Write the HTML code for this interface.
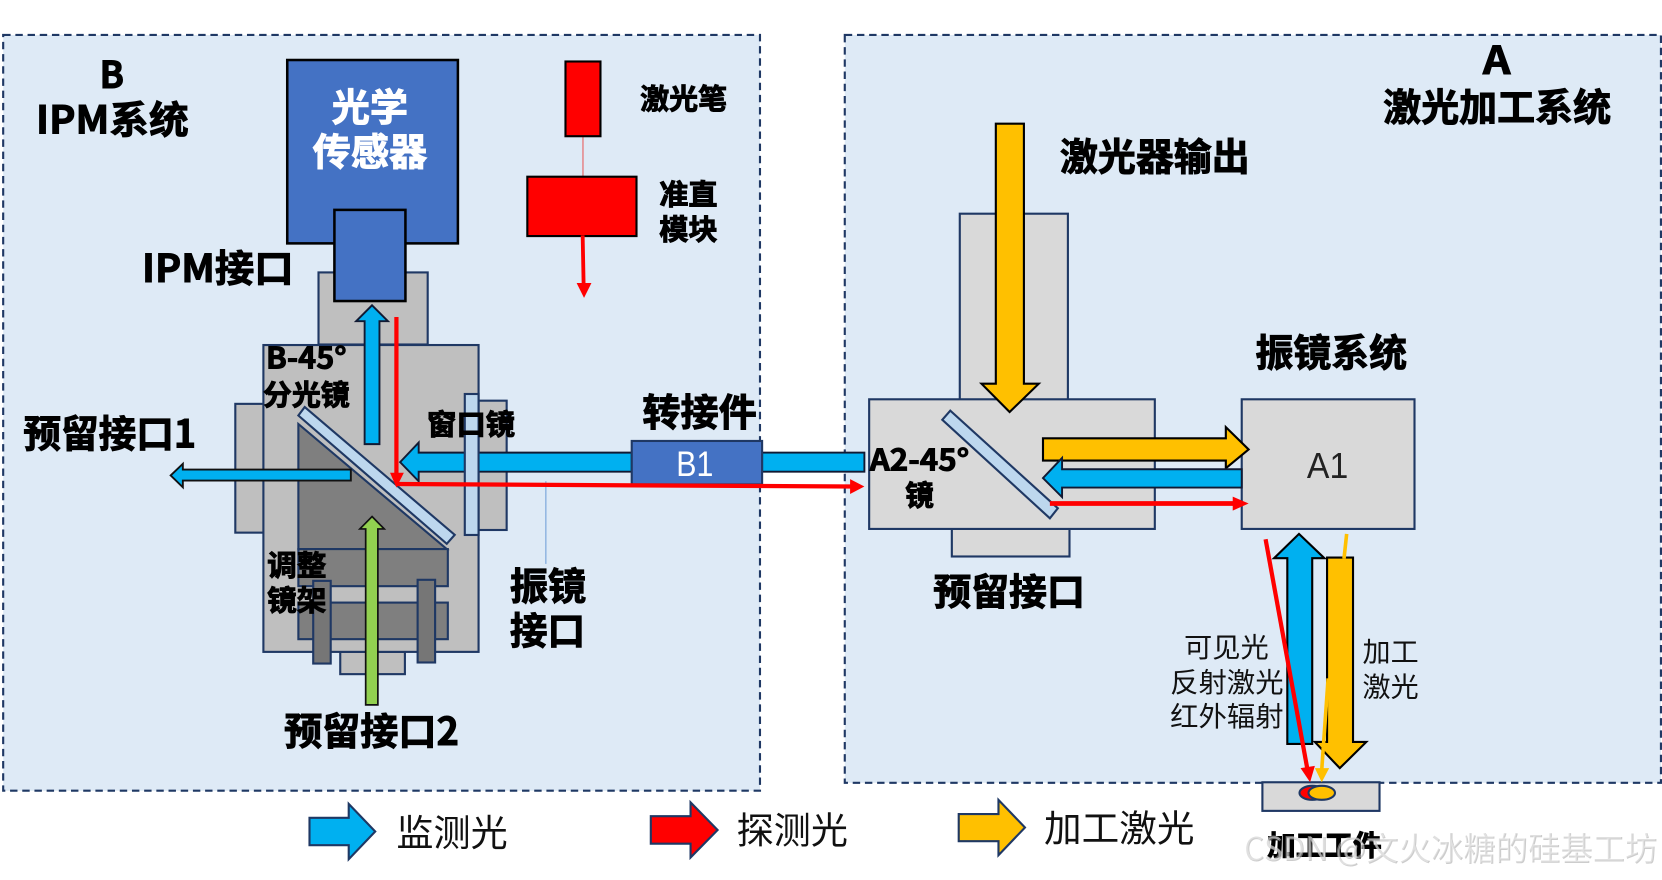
<!DOCTYPE html>
<html lang="zh">
<head>
<meta charset="utf-8">
<title>IPM diagram</title>
<style>
html,body{margin:0;padding:0;background:#fff;width:1662px;height:880px;overflow:hidden}
svg{display:block}
text{font-family:"Liberation Sans","Noto Sans CJK SC",sans-serif;fill:#000}
.b{font-family:"Noto Sans CJK SC","Liberation Sans",sans-serif;font-weight:700;stroke:#000;stroke-width:.9}
.n{font-family:"Noto Sans CJK SC","Liberation Sans",sans-serif;font-weight:400;fill:#111}
.w{font-family:"Noto Sans CJK SC","Liberation Sans",sans-serif;font-weight:400}
</style>
</head>
<body>
<svg width="1662" height="880" viewBox="0 0 1568 830.2" xmlns="http://www.w3.org/2000/svg">
<rect width="1568" height="831" fill="#fff"/>
<g stroke="#1f3864" stroke-width="2">
<!-- panels -->
<rect x="3" y="33" width="714" height="713" fill="#deeaf6" stroke-dasharray="7 4.5"/>
<rect x="797" y="33" width="770" height="705.5" fill="#deeaf6" stroke-dasharray="7 4.5"/>

<!-- B housing -->
<rect x="222" y="381" width="27" height="121.5" fill="#bfbfbf"/>
<rect x="451" y="378" width="27" height="122" fill="#bfbfbf"/>
<rect x="300.5" y="257" width="103" height="68" fill="#bfbfbf"/>
<rect x="321" y="615" width="61" height="21" fill="#bfbfbf"/>
<rect x="248.5" y="325.5" width="203" height="289.5" fill="#bfbfbf"/>
<polygon points="281.5,400 281.5,518 421.5,518" fill="#7f7f7f"/>
<rect x="281.5" y="518" width="141" height="35" fill="#7f7f7f"/>
<rect x="281.5" y="568.5" width="141" height="34.5" fill="#7f7f7f"/>
<rect x="295.5" y="548" width="16.5" height="78" fill="#767676"/>
<rect x="394" y="547" width="16.5" height="78" fill="#767676"/>
<polygon points="287.5,384 281.5,392 421.5,513 429,504.6" fill="#bdd7ee"/>
</g>

<!-- sensor -->
<rect x="271" y="56.6" width="161" height="173" fill="#4472c4" stroke="#000" stroke-width="2.4"/>
<rect x="315.5" y="198" width="67" height="86" fill="#4472c4" stroke="#000" stroke-width="2.4"/>

<!-- laser pen -->
<line x1="550" y1="128" x2="550" y2="167" stroke="#e85a5a" stroke-width="1"/>
<rect x="533.5" y="58" width="33" height="70.5" fill="#f00" stroke="#000" stroke-width="2"/>
<rect x="497.5" y="166.7" width="103" height="56" fill="#f00" stroke="#000" stroke-width="2"/>
<line x1="549.7" y1="222" x2="550.6" y2="268" stroke="#f00" stroke-width="3.6"/>
<polygon points="544,267 558,267 551,281" fill="#f00"/>

<!-- green arrow -->
<polygon points="351,487.3 362.5,499 356.5,499 356.5,665 345,665 345,499 339.5,499" fill="#92d050" stroke="#111" stroke-width="1.6"/>

<!-- blue up arrow in B -->
<polygon points="351,288 366,303 358,303 358,419 344,419 344,303 336,303" fill="#00b0f0" stroke="#111a33" stroke-width="1.8"/>
<!-- small blue left arrow -->
<polygon points="161,448.5 172.5,437.6 172.5,443 331,443 331,453.4 172.5,453.4 172.5,459.7" fill="#00b0f0" stroke="#111" stroke-width="1.8"/>
<!-- blue main left arrow -->
<polygon points="377.5,436 395,417.5 395,427 596,427 596,445 395,445 395,454" fill="#00b0f0" stroke="#111a33" stroke-width="1.8"/>
<rect x="719" y="427" width="96.5" height="18" fill="#00b0f0" stroke="#111a33" stroke-width="1.8"/>
<!-- B1 -->
<rect x="596" y="416" width="123" height="41" fill="#4472c4" stroke="#1f3864" stroke-width="2"/>

<!-- window mirror above blue -->
<rect x="438.5" y="371.7" width="13" height="133" fill="#bdd7ee" stroke="#1f3864" stroke-width="2"/>

<!-- thin blue -->
<line x1="515" y1="454" x2="515" y2="532" stroke="#6f9fd8" stroke-width="1"/>

<!-- A housing -->
<g stroke="#1f3864" stroke-width="2" fill="#d9d9d9">
<rect x="905.5" y="201.6" width="102" height="175.4"/>
<rect x="898" y="499" width="111" height="26"/>
<rect x="820" y="376.7" width="269.5" height="122.3"/>
<rect x="1171.5" y="376.7" width="163" height="122.3"/>
<polygon points="896.5,387.4 889,396 990.5,489 998,479.5" fill="#bdd7ee"/>
<rect x="1191" y="738" width="110.5" height="27"/>
<ellipse cx="1238" cy="748" rx="12" ry="6.6" fill="#f00"/>
<ellipse cx="1247" cy="748" rx="12.5" ry="6.6" fill="#ffc000"/>
</g>

<!-- A arrows -->
<polygon points="939.5,116.7 966,116.7 966,362 980,362 952.5,388.7 926,362 939.5,362" fill="#ffc000" stroke="#000" stroke-width="2"/>
<polygon points="984,413.5 1156.5,413.5 1156.5,403 1178,424 1156.5,441.7 1156.5,434.5 984,434.5" fill="#ffc000" stroke="#000" stroke-width="2"/>
<polygon points="984,451 1002,432 1002,442.7 1171.5,442.7 1171.5,460 1002,460 1002,469" fill="#00b0f0" stroke="#111a33" stroke-width="1.8"/>
<polygon points="1225.5,503.7 1249.5,526.6 1238,526.6 1238,701.8 1214.5,701.8 1214.5,526.6 1202,526.6" fill="#00b0f0" stroke="#000" stroke-width="2"/>
<polygon points="1252,526 1276.5,526 1276.5,700 1289,700 1264,724.7 1240.5,700 1252,700" fill="#ffc000" stroke="#000" stroke-width="2"/>
<line x1="1270.5" y1="503.7" x2="1268" y2="527" stroke="#ffc000" stroke-width="3.4"/>
<line x1="1253" y1="640" x2="1247" y2="726" stroke="#ffc000" stroke-width="3.4"/>
<polygon points="1240.5,724.7 1254,724.7 1247,738" fill="#ffc000"/>

<!-- red beams -->
<line x1="374" y1="299" x2="374" y2="447" stroke="#f00" stroke-width="4"/>
<polygon points="368,446 381,446 374,460" fill="#f00"/>
<line x1="374" y1="456.6" x2="804" y2="459" stroke="#f00" stroke-width="4"/>
<polygon points="802,452 815.5,459 802,466" fill="#f00"/>
<line x1="990.5" y1="475" x2="1165" y2="475" stroke="#f00" stroke-width="4.4"/>
<polygon points="1163,468.5 1178,475 1163,481.7" fill="#f00"/>
<line x1="1194" y1="508.7" x2="1233.5" y2="726" stroke="#f00" stroke-width="4"/>
<polygon points="1227,724.7 1240.5,722.5 1236,738" fill="#f00"/>

<!-- legend -->
<polygon points="292,771.6 329,771.6 329,758.4 354,784.5 329,810.6 329,797.4 292,797.4" fill="#00b0f0" stroke="#1f3864" stroke-width="2"/>
<polygon points="614,770 651.5,770 651.5,757 677,783 651.5,809 651.5,796 614,796" fill="#f00" stroke="#1f3864" stroke-width="2"/>
<polygon points="904.5,768 942,768 942,754.6 967,780.7 942,806.8 942,793.6 904.5,793.6" fill="#ffc000" stroke="#1f3864" stroke-width="2"/>

<!-- labels B -->
<text class="b" x="94" y="83" font-size="35" textLength="23" lengthAdjust="spacingAndGlyphs">B</text>
<text class="b" x="34" y="126" font-size="36" textLength="144" lengthAdjust="spacingAndGlyphs">IPM系统</text>
<text class="b" x="313" y="114" font-size="36" textLength="72" lengthAdjust="spacingAndGlyphs" style="fill:#fff;stroke:#fff">光学</text>
<text class="b" x="295" y="156" font-size="36" textLength="108" lengthAdjust="spacingAndGlyphs" style="fill:#fff;stroke:#fff">传感器</text>
<text class="b" x="604" y="103" font-size="27" textLength="82" lengthAdjust="spacingAndGlyphs">激光笔</text>
<text class="b" x="622" y="193" font-size="27" textLength="55" lengthAdjust="spacingAndGlyphs">准直</text>
<text class="b" x="622" y="226" font-size="27" textLength="55" lengthAdjust="spacingAndGlyphs">模块</text>
<text class="b" x="134" y="266" font-size="36" textLength="143" lengthAdjust="spacingAndGlyphs">IPM接口</text>
<text class="b" x="251" y="347.5" font-size="28" textLength="76" lengthAdjust="spacingAndGlyphs">B-45°</text>
<text class="b" x="248" y="382" font-size="27" textLength="82" lengthAdjust="spacingAndGlyphs">分光镜</text>
<text class="b" x="403" y="410" font-size="27" textLength="83" lengthAdjust="spacingAndGlyphs">窗口镜</text>
<text class="b" x="606" y="402" font-size="36" textLength="108" lengthAdjust="spacingAndGlyphs">转接件</text>
<text class="b" x="22" y="422" font-size="36" textLength="163" lengthAdjust="spacingAndGlyphs">预留接口1</text>
<text class="b" x="252" y="543" font-size="27" textLength="56" lengthAdjust="spacingAndGlyphs">调整</text>
<text class="b" x="252" y="576" font-size="27" textLength="56" lengthAdjust="spacingAndGlyphs">镜架</text>
<text class="b" x="481" y="566" font-size="36" textLength="72" lengthAdjust="spacingAndGlyphs">振镜</text>
<text class="b" x="481" y="608" font-size="36" textLength="71" lengthAdjust="spacingAndGlyphs">接口</text>
<text class="b" x="268" y="703" font-size="36" textLength="165" lengthAdjust="spacingAndGlyphs">预留接口2</text>
<text x="638" y="449" font-size="33" textLength="35" lengthAdjust="spacingAndGlyphs" style="fill:#fff">B1</text>

<!-- labels A -->
<text class="b" x="1399" y="70" font-size="36" textLength="26" lengthAdjust="spacingAndGlyphs">A</text>
<text class="b" x="1305" y="114" font-size="36" textLength="215" lengthAdjust="spacingAndGlyphs">激光加工系统</text>
<text class="b" x="1000" y="161" font-size="36" textLength="179" lengthAdjust="spacingAndGlyphs">激光器输出</text>
<text class="b" x="1184.5" y="346" font-size="36" textLength="143" lengthAdjust="spacingAndGlyphs">振镜系统</text>
<text class="b" x="820.5" y="444" font-size="28" textLength="94" lengthAdjust="spacingAndGlyphs">A2-45°</text>
<text class="b" x="854" y="477" font-size="27" textLength="27" lengthAdjust="spacingAndGlyphs">镜</text>
<text x="1233" y="451" font-size="34" textLength="39" lengthAdjust="spacingAndGlyphs" style="fill:#222">A1</text>
<text class="b" x="880.5" y="571" font-size="35" textLength="143" lengthAdjust="spacingAndGlyphs">预留接口</text>
<text class="n" x="1117" y="620" font-size="26" textLength="80" lengthAdjust="spacingAndGlyphs">可见光</text>
<text class="n" x="1104" y="653" font-size="26" textLength="107" lengthAdjust="spacingAndGlyphs">反射激光</text>
<text class="n" x="1104" y="685" font-size="26" textLength="107" lengthAdjust="spacingAndGlyphs">红外辐射</text>
<text class="n" x="1285.5" y="624" font-size="26" textLength="53" lengthAdjust="spacingAndGlyphs">加工</text>
<text class="n" x="1285.5" y="657" font-size="26" textLength="53" lengthAdjust="spacingAndGlyphs">激光</text>

<!-- legend text -->
<text class="n" x="374" y="798" font-size="35" textLength="105" lengthAdjust="spacingAndGlyphs">监测光</text>
<text class="n" x="695" y="796" font-size="35" textLength="105" lengthAdjust="spacingAndGlyphs">探测光</text>
<text class="n" x="985" y="794" font-size="35" textLength="142" lengthAdjust="spacingAndGlyphs">加工激光</text>

<text class="b" x="1195.5" y="807" font-size="27" textLength="108" lengthAdjust="spacingAndGlyphs">加工工件</text>

<!-- watermark -->
<text class="w" x="1174" y="812.5" font-size="31" textLength="390" lengthAdjust="spacingAndGlyphs" style="fill:rgba(170,170,170,.6)">CSDN @文火冰糖的硅基工坊</text>
<text class="w" x="1173" y="811.5" font-size="31" textLength="390" lengthAdjust="spacingAndGlyphs" style="fill:rgba(255,255,255,.4)">CSDN @文火冰糖的硅基工坊</text>
</svg>
</body>
</html>
